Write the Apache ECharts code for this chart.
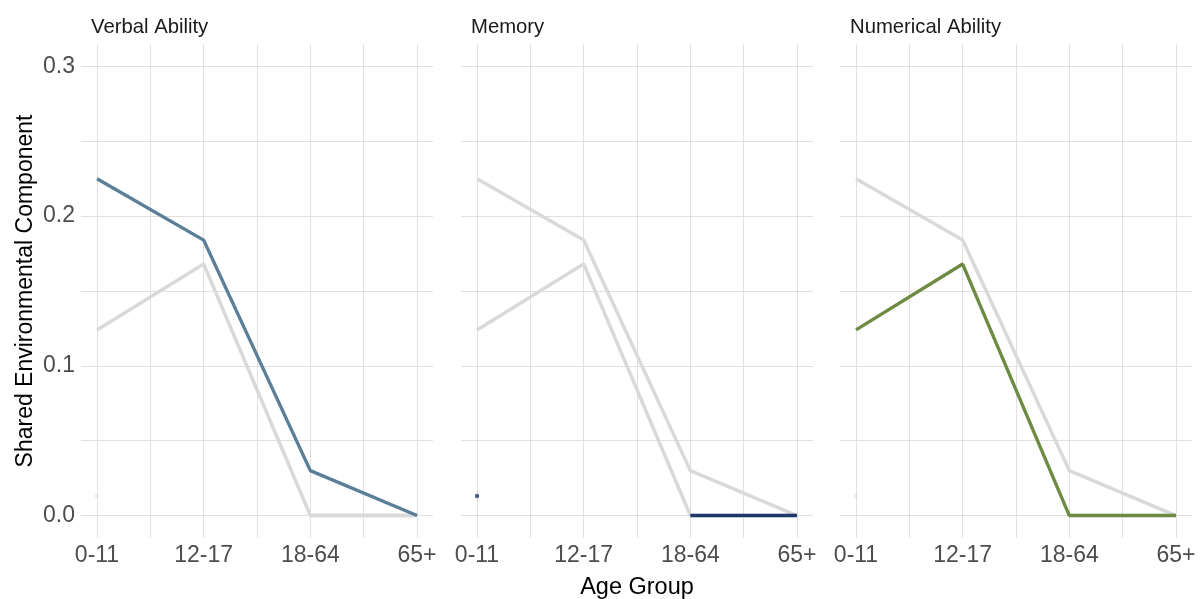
<!DOCTYPE html>
<html>
<head>
<meta charset="utf-8">
<script src="https://cdn.jsdelivr.net/npm/echarts@6/dist/echarts.min.js"></script>
<style>
  html, body { margin: 0; padding: 0; background: #fff; }
  #chart { width: 1201px; height: 599px; }
</style>
</head>
<body>
<div id="chart"></div>
<script>
// data
const ageGroups = ["0-11", "12-17", "18-64", "65+"];
const panels = ["Verbal Ability", "Memory", "Numerical Ability"];
const verbal = [0.225, 0.184, 0.030, 0.000];
const memory = [0.013, null, 0.000, 0.000];
const numerical = [0.124, 0.168, 0.000, 0.000];
const yLabels = [0, 0.1, 0.2, 0.3];
const yGrid = [0, 0.05, 0.1, 0.15, 0.2, 0.25, 0.3];
const xGrid = [0, 0.5, 1, 1.5, 2, 2.5, 3];

const allSeries = [verbal, memory, numerical];
const colours = ["#5b7f99", "#1f3a68", "#6e8b44"];
const greyCol = "#d9d9d9";
const font = "Liberation Sans, Arial, sans-serif";

const chart = echarts.init(document.getElementById("chart"));

const gridLefts = [81, 461, 840];
const grids = gridLefts.map((l) => ({
  left: l, top: 44, width: 352, height: 494,
  containLabel: false, outerBoundsMode: "none"
}));

const toPts = (arr) => arr.map((v, i) => [i, v]);
// points with no neighbours get drawn as dots
const isolated = (arr) =>
  arr.map((v, i) => [i, v]).filter(([i, v]) =>
    v != null && (i === 0 || arr[i - 1] == null) && (i === arr.length - 1 || arr[i + 1] == null));

const xAxes = grids.map((g, k) => ({
  type: "value", gridIndex: k, min: -0.15, max: 3.15,
  axisLine: { show: false },
  axisTick: { show: false, customValues: xGrid },
  splitLine: { show: true, lineStyle: { color: "#e0e0e0", width: 1 } },
  axisLabel: {
    customValues: [0, 1, 2, 3],
    formatter: (v) => ageGroups[Math.round(v)],
    color: "#4d4d4d", fontSize: 23, fontFamily: font, margin: 6
  },
  name: k === 1 ? "Age Group" : "",
  nameLocation: "middle", nameGap: 38,
  nameTextStyle: { color: "#000", fontSize: 23.5, fontFamily: font }
}));

const yAxes = grids.map((g, k) => ({
  type: "value", gridIndex: k, min: -0.015, max: 0.315,
  axisLine: { show: false },
  axisTick: { show: false, customValues: yGrid },
  splitLine: { show: true, lineStyle: { color: "#e0e0e0", width: 1 } },
  axisLabel: {
    show: k === 0,
    customValues: yLabels,
    formatter: (v) => v.toFixed(1),
    color: "#4d4d4d", fontSize: 23, fontFamily: font, margin: 6
  },
  name: k === 0 ? "Shared Environmental Component" : "",
  nameLocation: "middle", nameGap: 44,
  nameTextStyle: { color: "#000", fontSize: 23, fontFamily: font }
}));

const series = [];
panels.forEach((p, k) => {
  // grey background lines for the other abilities
  allSeries.forEach((arr, j) => {
    if (j === k) return;
    series.push({
      type: "line", xAxisIndex: k, yAxisIndex: k, data: toPts(arr),
      showSymbol: false, silent: true, z: 2,
      lineStyle: { color: greyCol, width: 3.5 }
    });
    const iso = isolated(arr);
    if (iso.length) series.push({
      type: "scatter", xAxisIndex: k, yAxisIndex: k, data: iso,
      symbolSize: 4, silent: true, z: 2, itemStyle: { color: "#e0e0e0" }
    });
  });
  const arr = allSeries[k];
  series.push({
    type: "line", xAxisIndex: k, yAxisIndex: k, data: toPts(arr),
    showSymbol: false, z: 3,
    lineStyle: { color: colours[k], width: 3.4 }
  });
  const iso = isolated(arr);
  if (iso.length) series.push({
    type: "scatter", xAxisIndex: k, yAxisIndex: k, data: iso,
    symbolSize: 4.5, z: 3, itemStyle: { color: colours[k] }
  });
});

const titles = panels.map((p, k) => ({
  text: p, left: gridLefts[k] + 10, top: 17, padding: 0,
  textStyle: { color: "#1a1a1a", fontSize: 20.3, fontWeight: "normal", fontFamily: font }
}));

chart.setOption({
  animation: false,
  backgroundColor: "#fff",
  title: titles,
  grid: grids,
  xAxis: xAxes,
  yAxis: yAxes,
  series: series
});
</script>
</body>
</html>
